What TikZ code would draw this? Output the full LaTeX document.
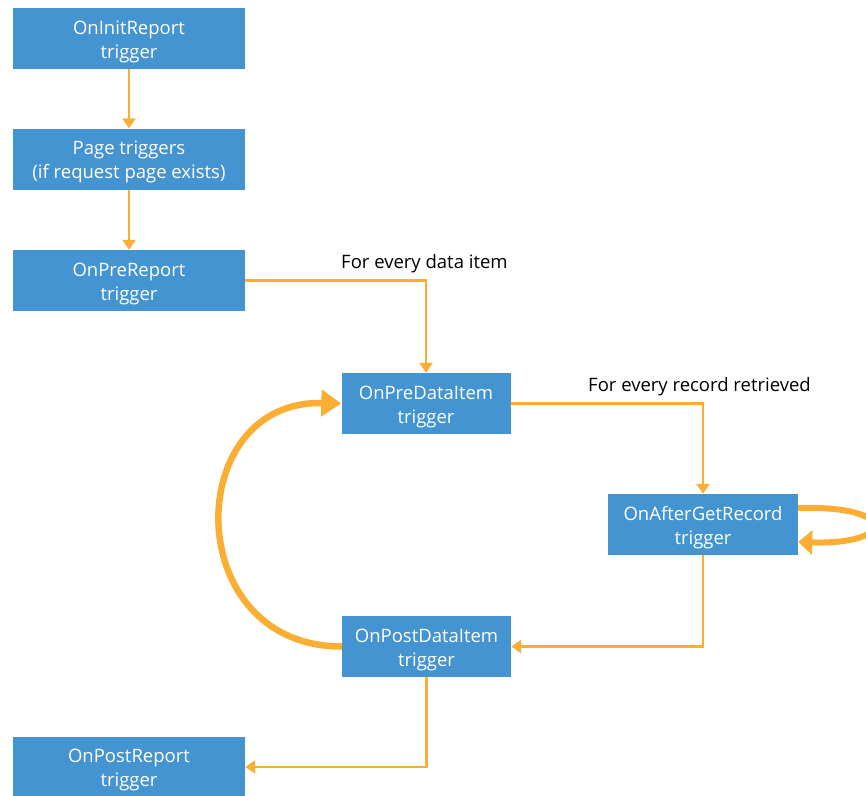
\documentclass[tikz,border=0pt]{standalone}
\usepackage{fontspec}
\setmainfont{Open Sans}
\usetikzlibrary{arrows.meta,calc}
\definecolor{boxblue}{RGB}{67,148,208}
\definecolor{arrorange}{RGB}{250,174,52}
\newcommand\twolines[2]{\rule{0pt}{20pt}#1\\#2\rule[-5pt]{0pt}{5pt}}
\tikzset{
  trig/.style={fill=boxblue, draw=none, text=white, align=center, inner sep=0pt,
    minimum height=61pt, font=\fontsize{18.5}{24}\selectfont},
  wide/.style={trig, minimum width=232pt},
  mid/.style={trig, minimum width=169pt},
  flow/.style={draw=arrorange, line width=2.6pt, -{Triangle[width=13pt,length=10pt]}},
  thick loop/.style={draw=arrorange, line width=6.5pt, -{Triangle[width=26pt,length=20pt]}},
  lbl/.style={text=black, inner sep=0pt, anchor=west, font=\fontsize{18.5}{22}\selectfont}
}
\begin{document}
\begin{tikzpicture}[x=1pt,y=-1pt]
\useasboundingbox (0,0) rectangle (866,795);
\node[wide] (init) at (129,38.5) {\twolines{OnInitReport}{trigger}};
\node[wide] (page) at (129,159) {\twolines{Page triggers}{(if request page exists)}};
\node[wide] (prerep) at (129,280.5) {\twolines{OnPreReport}{trigger}};
\node[mid] (predi) at (426,403.5) {\twolines{OnPreDataItem}{trigger}};
\node[trig, minimum width=190pt] (agr) at (703,524.5) {\twolines{OnAfterGetRecord}{trigger}};
\node[mid] (postdi) at (426.5,646.5) {\twolines{OnPostDataItem}{trigger}};
\node[wide] (postrep) at (129,767) {\twolines{OnPostReport}{trigger}};
\node[lbl] (l1) at (341,264) {For every data item};
\node[lbl] (l2) at (588,387) {For every record retrieved};
\draw[flow] (init) -- (page);
\draw[flow] (page) -- (prerep);
\draw[flow] (prerep.east) -| (predi.north);
\draw[flow] (predi.east) -| (agr.north);
\draw[flow] (agr.south) |- (postdi.east);
\draw[flow] (postdi.south) |- (postrep.east);
\draw[thick loop] (postdi.west) .. controls +(-162,0) and +(-160,-4) .. ([yshift=0pt]predi.west);
\draw[draw=arrorange, line width=6pt, -{Triangle[width=24pt,length=14pt]}]
  ([yshift=16.5pt]agr.east) .. controls +(100,-3) and +(98,3) .. ([yshift=-17.5pt]agr.east);
\end{tikzpicture}
\end{document}
